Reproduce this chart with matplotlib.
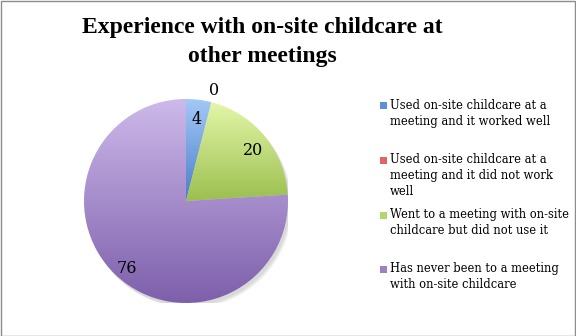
import numpy as np
import matplotlib
matplotlib.use("Agg")
import matplotlib.pyplot as plt
from matplotlib.patches import Rectangle
from matplotlib.colors import LinearSegmentedColormap

title_lines = ["Experience with on-site childcare at", "other meetings"]
categories = [
    "Used on-site childcare at a\nmeeting and it worked well",
    "Used on-site childcare at a\nmeeting and it did not work\nwell",
    "Went to a meeting with on-site\nchildcare but did not use it",
    "Has never been to a meeting\nwith on-site childcare",
]
values = [4, 0, 20, 76]
top_colors = ["#a3c8f7", "#f0a0a0", "#e3f7a8", "#cdb9ea"]
bottom_colors = ["#4a7ec9", "#c0504d", "#9cbf4f", "#7d5fab"]
legend_colors = ["#5f8fd6", "#e06666", "#b4d76c", "#9a82c4"]

FONT = "DejaVu Serif"
TITLE_FONT = "Liberation Serif"
W, H = 576, 336
fig = plt.figure(figsize=(W / 100, H / 100), dpi=100)
fig.patch.set_facecolor("white")

# outer frame
fig.patches.append(Rectangle((0.5 / W, 0.5 / H), 1 - 1.5 / W, 1 - 1.5 / H,
                             transform=fig.transFigure, fill=False,
                             edgecolor="#8c8c8c", linewidth=1.0))

# two-line title, baselines at 33 px and 62 px from the top
for line, base in zip(title_lines, [33, 62]):
    fig.text(262 / W, (H - base) / H, line, ha="center", va="baseline",
             fontsize=17, fontweight="bold", family=TITLE_FONT)

# pie axes: centre (186, 201) px, radius 102 px
cx, cy, r = 186, 201, 102
ax = fig.add_axes([(cx - r) / W, (H - cy - r) / H, 2 * r / W, 2 * r / H])
ax.set_xlim(-1, 1)
ax.set_ylim(-1, 1)
ax.axis("off")

# soft shadow
for k, a in enumerate([0.05, 0.05, 0.05]):
    sh = plt.Circle((0.02 + 0.01 * k, -0.03 - 0.01 * k), 1.0, color="black",
                    alpha=a, zorder=0, lw=0)
    ax.add_patch(sh)

wedges, _ = ax.pie(values, startangle=90, counterclock=False, radius=1.0,
                   colors=["none"] * len(values),
                   wedgeprops=dict(linewidth=0))

for w, c0, c1 in zip(wedges, top_colors, bottom_colors):
    if w.theta2 - w.theta1 <= 0:
        continue
    w.set_zorder(1)
    bb = w.get_path().get_extents()
    cmap = LinearSegmentedColormap.from_list("g", [c1, c0])
    grad = np.linspace(0, 1, 256).reshape(-1, 1)
    im = ax.imshow(grad, cmap=cmap, origin="lower", aspect="auto",
                   extent=[bb.x0, bb.x1, bb.y0, bb.y1], zorder=2,
                   interpolation="bicubic")
    im.set_clip_path(w)

ax.set_xlim(-1, 1)
ax.set_ylim(-1, 1)

# data labels
for w, v in zip(wedges, values):
    mid = np.deg2rad((w.theta1 + w.theta2) / 2)
    if v > 0:
        x, y = 0.85 * np.cos(mid), 0.85 * np.sin(mid) - 0.045
    else:
        x, y = 1.12 * np.cos(mid), 1.12 * np.sin(mid)
    ax.text(x, y, f"{v}", ha="center", va="center", fontsize=11.5,
            family=FONT, zorder=5)

# legend
ys = [106, 160, 215, 269]
for lab, col, y in zip(categories, legend_colors, ys):
    fig.patches.append(Rectangle((380 / W, (H - y - 3.5) / H), 7 / W, 7 / H,
                                 transform=fig.transFigure, facecolor=col,
                                 edgecolor="none"))
    fig.text(390 / W, (H - y + 7) / H, lab, ha="left", va="top",
             fontsize=8.3, family=FONT, linespacing=1.3)

fig.savefig("out.png", dpi=100)
